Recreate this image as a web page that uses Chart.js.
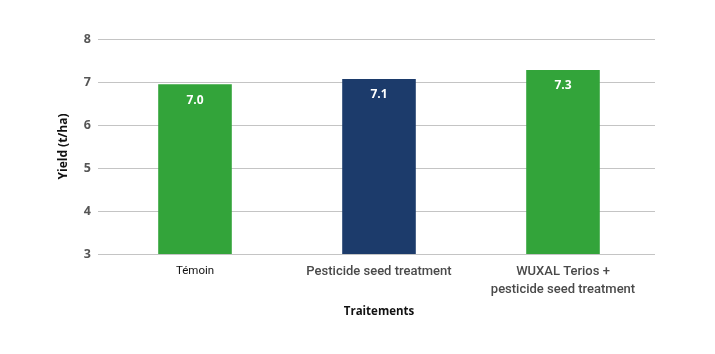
<!DOCTYPE html>
<html lang="fr">
<head>
    <meta charset="utf-8">
    <title>Yield</title>
    <script src="https://cdn.jsdelivr.net/npm/chart.js@4.4.0/dist/chart.umd.min.js"></script>
    <style>
        body { margin: 0; background: #fff; }
        #wrap { position: relative; width: 715px; height: 354px; }
    </style>
</head>
<body>
    <div id="wrap"><canvas id="yield-chart"></canvas></div>
    <script>
        // data
        let categories = ["Témoin", "Pesticide seed treatment", ["WUXAL Terios +", "pesticide seed treatment"]];
        let yieldValues = [6.95, 7.07, 7.28];
        let valueLabels = ["7.0", "7.1", "7.3"];
        let barColors = ["#33a43a", "#1c3b6b", "#33a43a"];
        let yTicks = [3, 4, 5, 6, 7, 8];

        // white value text inside the top of each bar
        const barText = {
            id: 'barText',
            afterDatasetsDraw(chart) {
                const ctx = chart.ctx;
                const meta = chart.getDatasetMeta(0);
                ctx.save();
                ctx.fillStyle = '#ffffff';
                ctx.font = 'bold 12px "Open Sans", sans-serif';
                ctx.textAlign = 'center';
                ctx.textBaseline = 'middle';
                meta.data.forEach((bar, i) => {
                    ctx.fillText(valueLabels[i], bar.x, bar.y + 16);
                });
                ctx.restore();
            }
        };

        new Chart(document.getElementById("yield-chart"), {
            type: 'bar',
            data: {
                labels: categories,
                datasets: [{
                    data: yieldValues,
                    backgroundColor: barColors,
                    categoryPercentage: 1.0,
                    barPercentage: 0.4
                }]
            },
            options: {
                responsive: true,
                maintainAspectRatio: false,
                animation: false,
                layout: { padding: { left: 52, right: 60, top: 39, bottom: 35 } },
                plugins: {
                    legend: { display: false },
                    tooltip: { enabled: false }
                },
                scales: {
                    y: {
                        min: 3,
                        max: 8,
                        afterFit(scale) { scale.width = 51; },
                        afterBuildTicks(scale) { scale.ticks = yTicks.map(v => ({ value: v })); },
                        border: { display: false },
                        grid: { color: '#c4c4c4', lineWidth: 1, tickLength: 5 },
                        ticks: {
                            color: '#555',
                            font: { family: '"Open Sans", sans-serif', size: 12.5, weight: 'bold' },
                            padding: 7
                        },
                        title: {
                            display: true,
                            text: 'Yield (t/ha)',
                            color: '#111',
                            font: { family: '"Open Sans", sans-serif', size: 12, weight: 'bold' },
                            padding: { bottom: 4 }
                        }
                    },
                    x: {
                        afterFit(scale) { scale.height = 65; },
                        border: { display: false },
                        grid: { display: false },
                        ticks: {
                            // first label is smaller and darker in the original
                            color: (c) => c.index === 0 ? '#111' : '#4a4a4a',
                            font: (c) => c.index === 0
                                ? { family: 'Roboto, sans-serif', size: 11.5, weight: 400, lineHeight: 1.35 }
                                : { family: 'Roboto, sans-serif', size: 13, weight: 500, lineHeight: 1.35 },
                            padding: 1,
                            maxRotation: 0
                        },
                        title: {
                            display: true,
                            text: 'Traitements',
                            color: '#111',
                            font: { family: '"Open Sans", sans-serif', size: 11.5, weight: 'bold' },
                            padding: { top: 0, bottom: 0 }
                        }
                    }
                }
            },
            plugins: [barText]
        });
    </script>
</body>
</html>
